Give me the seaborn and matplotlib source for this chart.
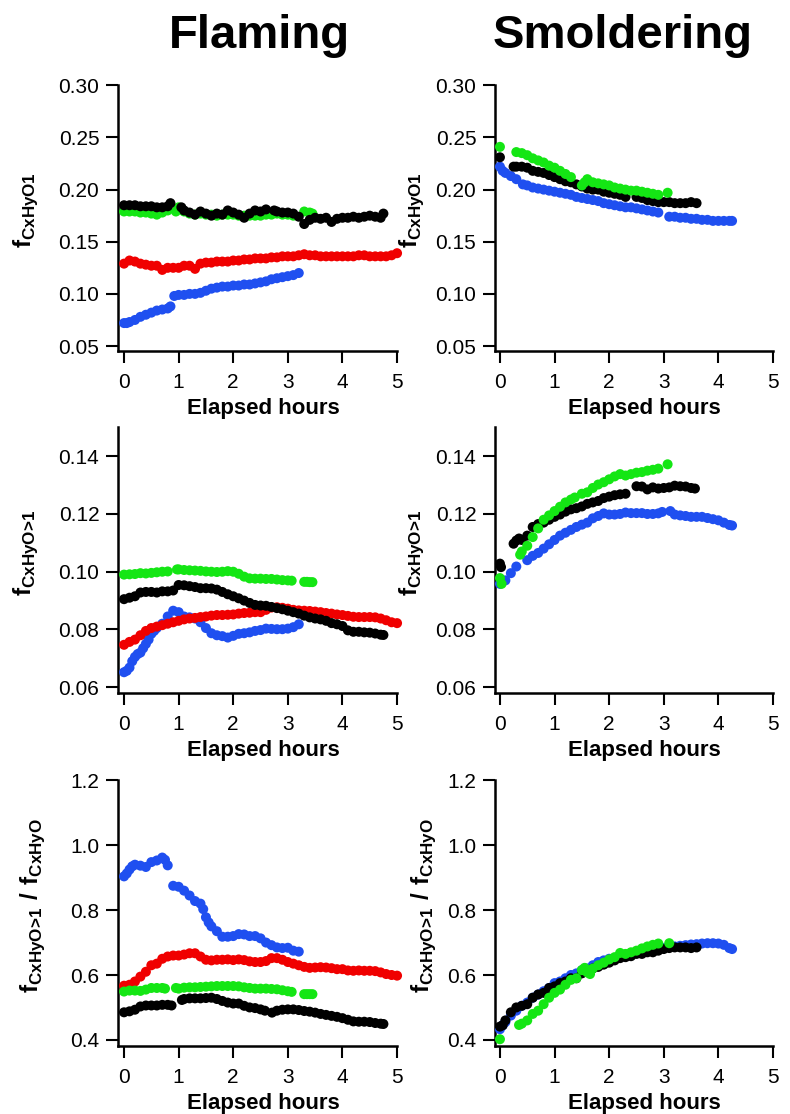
import pandas as pd
import seaborn as sns
import matplotlib
matplotlib.use("Agg")
import matplotlib.pyplot as plt
from matplotlib.ticker import FormatStrFormatter

# ---- data (hours, value) ----
# Flaming, f_CxHyO1
FL1_BLUE_T = [0.0, 0.05, 0.1, 0.2, 0.3, 0.4, 0.5, 0.6, 0.7, 0.8, 0.85,
              0.92, 1.0, 1.1, 1.2, 1.3, 1.4, 1.5, 1.6, 1.7, 1.8, 1.9, 2.0, 2.1, 2.2, 2.3, 2.4, 2.5, 2.6,
              2.7, 2.8, 2.9, 3.0, 3.1, 3.2]
FL1_BLUE_Y = [0.072, 0.072, 0.073, 0.075, 0.078, 0.080, 0.082, 0.084, 0.085, 0.086, 0.088,
              0.098, 0.099, 0.099, 0.100, 0.100, 0.101, 0.103, 0.105, 0.106, 0.107, 0.107, 0.108, 0.108,
              0.109, 0.109, 0.110, 0.111, 0.112, 0.114, 0.115, 0.116, 0.117, 0.118, 0.120]
FL1_RED_T = [0.0, 0.1, 0.2, 0.3, 0.4, 0.5, 0.6, 0.7, 0.8, 0.9, 1.0, 1.1, 1.2, 1.3, 1.4, 1.5, 1.6,
             1.7, 1.8, 1.9, 2.0, 2.1, 2.2, 2.3, 2.4, 2.5, 2.6, 2.7, 2.8, 2.9, 3.0, 3.1, 3.2, 3.3,
             3.4, 3.5, 3.6, 3.7, 3.8, 3.9, 4.0, 4.1, 4.2, 4.3, 4.4, 4.5, 4.6, 4.7, 4.8, 4.9, 5.0]
FL1_RED_Y = [0.129, 0.132, 0.131, 0.129, 0.128, 0.127, 0.127, 0.123, 0.125, 0.125, 0.125, 0.127,
             0.127, 0.124, 0.129, 0.130, 0.130, 0.131, 0.131, 0.131, 0.132, 0.132, 0.133, 0.133,
             0.134, 0.134, 0.134, 0.135, 0.135, 0.136, 0.136, 0.136, 0.137, 0.138, 0.137, 0.137,
             0.136, 0.136, 0.136, 0.136, 0.136, 0.136, 0.136, 0.137, 0.137, 0.136, 0.136, 0.136,
             0.136, 0.137, 0.139]
FL1_BLACK_T = [0.0, 0.1, 0.2, 0.3, 0.4, 0.5, 0.6, 0.7, 0.8, 0.85,
               1.05, 1.1, 1.2, 1.3, 1.4, 1.5, 1.6, 1.7, 1.8, 1.9, 2.0, 2.1, 2.2, 2.3, 2.4, 2.5, 2.6,
               2.75, 2.8, 2.9, 3.0, 3.1, 3.2, 3.3, 3.4, 3.5, 3.6, 3.7, 3.8, 3.9, 4.0, 4.1, 4.2, 4.3,
               4.4, 4.5, 4.6, 4.7, 4.75]
FL1_BLACK_Y = [0.185, 0.185, 0.185, 0.184, 0.184, 0.184, 0.183, 0.183, 0.184, 0.187,
               0.183, 0.180, 0.178, 0.176, 0.179, 0.177, 0.175, 0.177, 0.176, 0.180, 0.178, 0.176,
               0.173, 0.177, 0.180, 0.179, 0.181,
               0.180, 0.179, 0.178, 0.178, 0.177, 0.174, 0.167, 0.171, 0.173, 0.172, 0.173, 0.169,
               0.172, 0.173, 0.173, 0.174, 0.173, 0.174, 0.175, 0.174, 0.173, 0.177]
FL1_GREEN_T = [0.0, 0.1, 0.2, 0.3, 0.4, 0.5, 0.6, 0.7, 0.8,
               0.95, 1.0, 1.1, 1.2, 1.3, 1.4, 1.5, 1.6, 1.7, 1.8, 1.9, 2.0, 2.1, 2.2, 2.3, 2.4,
               2.5, 2.6, 2.7, 2.8, 2.9, 3.0, 3.1,
               3.3, 3.4, 3.45]
FL1_GREEN_Y = [0.179, 0.179, 0.179, 0.178, 0.178, 0.177, 0.176, 0.178, 0.180,
               0.179, 0.183, 0.179, 0.177, 0.176, 0.177, 0.176, 0.176, 0.175, 0.176, 0.176, 0.176,
               0.175, 0.175, 0.175, 0.175, 0.175, 0.176, 0.176, 0.177, 0.176, 0.176, 0.175,
               0.179, 0.178, 0.177]

# Smoldering, f_CxHyO1
SM1_BLUE_T = [0.0, 0.05, 0.1, 0.2, 0.3,
              0.42, 0.5, 0.6, 0.7, 0.8, 0.9, 1.0, 1.1, 1.2, 1.3, 1.4, 1.5, 1.6, 1.7, 1.8, 1.9,
              2.0, 2.1, 2.2, 2.3, 2.4, 2.5, 2.6, 2.7, 2.8, 2.9,
              3.1, 3.2, 3.3, 3.4, 3.5, 3.6, 3.7, 3.8, 3.9, 4.0, 4.1, 4.2, 4.25]
SM1_BLUE_Y = [0.222, 0.218, 0.216, 0.213, 0.210,
              0.205, 0.204, 0.202, 0.201, 0.200, 0.199, 0.198, 0.197, 0.196, 0.195, 0.193, 0.192,
              0.191, 0.190, 0.189, 0.187, 0.186, 0.185, 0.184, 0.183, 0.183, 0.182, 0.181, 0.180,
              0.179, 0.178,
              0.174, 0.174, 0.173, 0.173, 0.172, 0.172, 0.171, 0.171, 0.170, 0.170, 0.170, 0.170,
              0.170]
SM1_BLACK_T = [0.0,
               0.25, 0.3, 0.4, 0.5, 0.6, 0.7, 0.8, 0.9, 1.0, 1.1, 1.2, 1.3, 1.4, 1.5, 1.6, 1.7,
               1.8, 1.9, 2.0, 2.1, 2.2, 2.3,
               2.5, 2.6, 2.7, 2.8, 2.9, 3.0, 3.1, 3.2, 3.3, 3.4, 3.5, 3.6]
SM1_BLACK_Y = [0.231,
               0.222, 0.222, 0.222, 0.221, 0.218, 0.217, 0.216, 0.214, 0.212, 0.210, 0.208, 0.207,
               0.205, 0.203, 0.201, 0.200, 0.200, 0.198, 0.197, 0.196, 0.195, 0.193,
               0.193, 0.192, 0.190, 0.189, 0.188, 0.188, 0.188, 0.187, 0.187, 0.187, 0.188, 0.187]
SM1_GREEN_T = [0.0,
               0.3, 0.4, 0.5, 0.6, 0.7, 0.8, 0.9, 1.0, 1.1, 1.2, 1.3,
               1.5, 1.55, 1.6, 1.7, 1.8, 1.9, 2.0, 2.1, 2.2, 2.3, 2.4, 2.5, 2.6, 2.7, 2.8, 2.9,
               3.07]
SM1_GREEN_Y = [0.241,
               0.236, 0.235, 0.233, 0.230, 0.228, 0.226, 0.223, 0.221, 0.218, 0.215, 0.212,
               0.204, 0.207, 0.210, 0.207, 0.206, 0.205, 0.204, 0.202, 0.201, 0.200, 0.199, 0.199,
               0.198, 0.197, 0.196, 0.195,
               0.197]

# Flaming, f_CxHyO>1
FL2_BLUE_T = [0.0, 0.05, 0.1, 0.15, 0.2, 0.25, 0.3, 0.35, 0.4, 0.45, 0.5, 0.55, 0.6, 0.7, 0.8,
              0.9, 1.0, 1.1, 1.2, 1.3, 1.4, 1.5, 1.6, 1.7, 1.8, 1.9, 2.0, 2.1, 2.2, 2.3, 2.4,
              2.5, 2.6, 2.7, 2.8, 2.9, 3.0, 3.1, 3.2]
FL2_BLUE_Y = [0.0652, 0.0657, 0.0668, 0.0690, 0.0705, 0.0715, 0.0720, 0.0735, 0.0750, 0.0765,
              0.0785, 0.0795, 0.0805, 0.0820, 0.0845, 0.0865, 0.0860, 0.0845, 0.0842, 0.0838,
              0.0825, 0.0805, 0.0787, 0.0780, 0.0777, 0.0772, 0.0778, 0.0785, 0.0787, 0.0790,
              0.0795, 0.0798, 0.0803, 0.0802, 0.0801, 0.0801, 0.0803, 0.0808, 0.0818]
FL2_RED_T = FL1_RED_T
FL2_RED_Y = [0.0747, 0.0757, 0.0765, 0.0780, 0.0795, 0.0805, 0.0810, 0.0815, 0.0820, 0.0825,
             0.0830, 0.0835, 0.0838, 0.0840, 0.0843, 0.0845, 0.0848, 0.0850, 0.0850, 0.0851,
             0.0852, 0.0855, 0.0857, 0.0858, 0.0860, 0.0860, 0.0868, 0.0876, 0.0877, 0.0875,
             0.0872, 0.0868, 0.0866, 0.0865, 0.0864, 0.0862, 0.0860, 0.0857, 0.0855, 0.0852,
             0.0850, 0.0847, 0.0844, 0.0843, 0.0843, 0.0843, 0.0842, 0.0838, 0.0832, 0.0825,
             0.0822]
FL2_BLACK_T = [0.0, 0.1, 0.2, 0.3, 0.4, 0.5, 0.6, 0.7, 0.8, 0.9,
               1.0, 1.1, 1.2, 1.3, 1.4, 1.5, 1.6, 1.7, 1.8, 1.9, 2.0, 2.1, 2.2, 2.3, 2.4, 2.5,
               2.6, 2.7, 2.8, 2.9, 3.0, 3.1, 3.2, 3.3, 3.4, 3.5, 3.6, 3.7, 3.8, 3.9, 4.0, 4.1,
               4.2, 4.3, 4.4, 4.5, 4.6, 4.7, 4.75]
FL2_BLACK_Y = [0.0905, 0.0910, 0.0915, 0.0928, 0.0930, 0.0930, 0.0928, 0.0932, 0.0932, 0.0935,
               0.0954, 0.0953, 0.0950, 0.0947, 0.0943, 0.0943, 0.0942, 0.0938, 0.0930, 0.0922,
               0.0915, 0.0908, 0.0900, 0.0892, 0.0885, 0.0883, 0.0882, 0.0878, 0.0874, 0.0870,
               0.0865, 0.0860, 0.0855, 0.0848, 0.0842, 0.0838, 0.0835, 0.0830, 0.0822, 0.0818,
               0.0812, 0.0797, 0.0792, 0.0792, 0.0790, 0.0789, 0.0786, 0.0782, 0.0781]
FL2_GREEN_T = [0.0, 0.1, 0.2, 0.3, 0.4, 0.5, 0.6, 0.7, 0.8,
               0.97, 1.0, 1.1, 1.2, 1.3, 1.4, 1.5, 1.6, 1.7, 1.8, 1.9, 2.0, 2.1, 2.2, 2.3, 2.4,
               2.5, 2.6, 2.7, 2.8, 2.9, 3.0, 3.07,
               3.3, 3.35, 3.4, 3.45]
FL2_GREEN_Y = [0.0990, 0.0991, 0.0992, 0.0995, 0.0994, 0.0996, 0.0998, 0.1000, 0.1001,
               0.1008, 0.1008, 0.1006, 0.1005, 0.1004, 0.1003, 0.1001, 0.1000, 0.0999, 0.1000,
               0.1002, 0.1000, 0.0993, 0.0983, 0.0977, 0.0976, 0.0976, 0.0975, 0.0975, 0.0973,
               0.0971, 0.0970, 0.0969,
               0.0965, 0.0965, 0.0964, 0.0964]

# Smoldering, f_CxHyO>1
SM2_BLUE_T = [0.0, 0.1, 0.2, 0.3,
              0.5, 0.6, 0.7, 0.8, 0.9, 1.0, 1.1, 1.2, 1.3, 1.4, 1.5, 1.6, 1.7, 1.8, 1.9, 2.0,
              2.1, 2.2, 2.3, 2.4, 2.5, 2.6, 2.7, 2.8, 2.9, 2.97,
              3.12, 3.2, 3.3, 3.4, 3.5, 3.6, 3.7, 3.8, 3.9, 4.0, 4.1, 4.2, 4.25]
SM2_BLUE_Y = [0.0958, 0.0970, 0.0995, 0.1018,
              0.1040, 0.1055, 0.1065, 0.1080, 0.1095, 0.1110, 0.1125, 0.1135, 0.1145, 0.1155,
              0.1163, 0.1170, 0.1185, 0.1193, 0.1202, 0.1198, 0.1198, 0.1200, 0.1205, 0.1203,
              0.1203, 0.1203, 0.1200, 0.1200, 0.1202, 0.1207,
              0.1210, 0.1198, 0.1195, 0.1193, 0.1190, 0.1190, 0.1190, 0.1186, 0.1182, 0.1178,
              0.1170, 0.1162, 0.1160]
SM2_BLACK_T = [0.0, 0.02,
               0.25, 0.3, 0.35, 0.4, 0.5, 0.6, 0.7, 0.8, 0.9, 1.0, 1.1, 1.2, 1.3, 1.4, 1.5, 1.6,
               1.7, 1.8, 1.9, 2.0, 2.1, 2.2, 2.3,
               2.5, 2.6, 2.7, 2.8, 2.9, 3.0, 3.1, 3.2, 3.3, 3.4, 3.5, 3.57]
SM2_BLACK_Y = [0.1028, 0.1016,
               0.1097, 0.1108, 0.1115, 0.1110, 0.1125, 0.1155, 0.1165, 0.1170, 0.1180, 0.1190,
               0.1198, 0.1208, 0.1216, 0.1220, 0.1226, 0.1235, 0.1240, 0.1245, 0.1255, 0.1260,
               0.1265, 0.1268, 0.1270,
               0.1296, 0.1295, 0.1285, 0.1292, 0.1288, 0.1290, 0.1292, 0.1298, 0.1296, 0.1295,
               0.1290, 0.1288]
SM2_GREEN_T = [0.0, 0.03,
               0.37, 0.4, 0.5, 0.6, 0.7, 0.8, 0.9, 1.0, 1.1, 1.2, 1.3, 1.37,
               1.5, 1.6, 1.7, 1.8, 1.9, 2.0, 2.1, 2.2, 2.3, 2.4, 2.5, 2.6, 2.7, 2.8, 2.9,
               3.07]
SM2_GREEN_Y = [0.0978, 0.0958,
               0.1059, 0.1070, 0.1090, 0.1120, 0.1150, 0.1180, 0.1195, 0.1210, 0.1225, 0.1240,
               0.1250, 0.1257,
               0.1270, 0.1275, 0.1290, 0.1302, 0.1310, 0.1320, 0.1330, 0.1338, 0.1333, 0.1338,
               0.1343, 0.1345, 0.1350, 0.1353, 0.1357,
               0.1372]

# Flaming, f_CxHyO>1 / f_CxHyO
FL3_BLUE_T = [0.0, 0.05, 0.1, 0.15, 0.2, 0.3, 0.4, 0.5, 0.6, 0.7, 0.75, 0.8,
              0.9, 1.0, 1.1, 1.2, 1.3, 1.4, 1.45, 1.5, 1.55, 1.6, 1.7, 1.8, 1.9,
              2.0, 2.1, 2.2, 2.3, 2.4, 2.5, 2.6, 2.7, 2.8, 2.9, 3.0, 3.1, 3.2]
FL3_BLUE_Y = [0.904, 0.913, 0.925, 0.935, 0.940, 0.937, 0.933, 0.948, 0.953, 0.962, 0.955, 0.938,
              0.875, 0.872, 0.860, 0.845, 0.828, 0.820, 0.803, 0.778, 0.762, 0.750, 0.735, 0.718,
              0.718, 0.720, 0.726, 0.725, 0.720, 0.720, 0.713, 0.700, 0.692, 0.685, 0.683, 0.684,
              0.675, 0.672]
FL3_RED_T = FL1_RED_T
FL3_RED_Y = [0.567, 0.570, 0.580, 0.595, 0.610, 0.630, 0.635, 0.650, 0.657, 0.660, 0.660, 0.663,
             0.667, 0.667, 0.657, 0.647, 0.645, 0.647, 0.647, 0.648, 0.646, 0.648, 0.646, 0.642,
             0.640, 0.640, 0.643, 0.652, 0.652, 0.647, 0.640, 0.635, 0.630, 0.625, 0.622, 0.623,
             0.624, 0.623, 0.621, 0.618, 0.618, 0.614, 0.613, 0.614, 0.613, 0.613, 0.612, 0.608,
             0.603, 0.600, 0.598]
FL3_BLACK_T = [0.0, 0.1, 0.2, 0.3, 0.4, 0.5, 0.6, 0.7, 0.8, 0.87,
               1.06, 1.1, 1.2, 1.3, 1.4, 1.5, 1.6, 1.7, 1.8, 1.9, 2.0, 2.1, 2.2, 2.3, 2.4, 2.5, 2.58,
               2.71, 2.8, 2.9, 3.0, 3.1, 3.2, 3.3, 3.4, 3.5, 3.6, 3.7, 3.8, 3.9, 4.0, 4.1, 4.2,
               4.3, 4.4, 4.5, 4.6, 4.7, 4.75]
FL3_BLACK_Y = [0.485, 0.488, 0.493, 0.503, 0.506, 0.506, 0.506, 0.508, 0.508, 0.506,
               0.523, 0.526, 0.528, 0.528, 0.528, 0.529, 0.530, 0.526, 0.520, 0.515, 0.512, 0.512,
               0.505, 0.500, 0.498, 0.494, 0.490,
               0.484, 0.490, 0.493, 0.494, 0.494, 0.492, 0.489, 0.487, 0.484, 0.480, 0.477, 0.474,
               0.471, 0.467, 0.462, 0.457, 0.456, 0.456, 0.455, 0.452, 0.450, 0.449]
FL3_GREEN_T = [0.0, 0.1, 0.2, 0.3, 0.4, 0.5, 0.6, 0.7, 0.75,
               0.95, 1.0, 1.1, 1.2, 1.3, 1.4, 1.5, 1.6, 1.7, 1.8, 1.9, 2.0, 2.1, 2.2, 2.3, 2.4,
               2.5, 2.6, 2.7, 2.8, 2.9, 3.0, 3.07,
               3.3, 3.35, 3.4, 3.45]
FL3_GREEN_Y = [0.549, 0.552, 0.552, 0.551, 0.555, 0.560, 0.560, 0.560, 0.558,
               0.560, 0.558, 0.561, 0.562, 0.562, 0.563, 0.564, 0.565, 0.566, 0.566, 0.566, 0.566,
               0.565, 0.562, 0.560, 0.558, 0.558, 0.558, 0.557, 0.556, 0.553, 0.550, 0.548,
               0.541, 0.541, 0.541, 0.541]

# Smoldering, f_CxHyO>1 / f_CxHyO
SM3_BLUE_T = [0.0, 0.05, 0.1, 0.2, 0.3, 0.4, 0.5, 0.6, 0.7, 0.8, 0.9, 1.0, 1.1, 1.2, 1.3, 1.4,
              1.5, 1.6, 1.7, 1.8, 1.9, 2.0, 2.1, 2.2, 2.3, 2.4, 2.5, 2.6, 2.7, 2.8, 2.9, 3.0,
              3.1, 3.2, 3.3, 3.4, 3.5, 3.6, 3.7, 3.8, 3.9, 4.0, 4.1, 4.2, 4.25]
SM3_BLUE_Y = [0.433, 0.445, 0.455, 0.475, 0.490, 0.505, 0.515, 0.530, 0.540, 0.550, 0.560, 0.575,
              0.580, 0.590, 0.600, 0.605, 0.615, 0.620, 0.630, 0.640, 0.645, 0.650, 0.652, 0.658,
              0.662, 0.665, 0.670, 0.672, 0.675, 0.677, 0.680, 0.683, 0.686, 0.688, 0.690, 0.692,
              0.694, 0.695, 0.697, 0.698, 0.698, 0.697, 0.693, 0.683, 0.680]
SM3_BLACK_T = [0.0, 0.05, 0.1, 0.2, 0.3, 0.4, 0.5, 0.6, 0.7, 0.8, 0.9, 1.0, 1.1, 1.2, 1.3, 1.4,
               1.5, 1.6, 1.7, 1.8, 1.9, 2.0, 2.1, 2.2, 2.3, 2.4, 2.5, 2.6, 2.7, 2.8, 2.9, 3.0,
               3.1, 3.2, 3.3, 3.4, 3.5, 3.6]
SM3_BLACK_Y = [0.441, 0.445, 0.460, 0.485, 0.500, 0.505, 0.510, 0.530, 0.540, 0.545, 0.560, 0.565,
               0.575, 0.580, 0.590, 0.590, 0.605, 0.612, 0.620, 0.625, 0.632, 0.638, 0.645, 0.652,
               0.655, 0.658, 0.665, 0.665, 0.670, 0.670, 0.675, 0.680, 0.683, 0.685, 0.685, 0.685,
               0.683, 0.685]
SM3_GREEN_T = [0.0,
               0.35, 0.4, 0.5, 0.6, 0.7, 0.8, 0.9, 1.0, 1.1, 1.2, 1.3, 1.4, 1.5, 1.55, 1.6, 1.65,
               1.7, 1.8, 1.9, 2.0, 2.1, 2.2, 2.3, 2.4, 2.5, 2.6, 2.7, 2.8, 2.9,
               3.1]
SM3_GREEN_Y = [0.402,
               0.446, 0.450, 0.460, 0.480, 0.490, 0.510, 0.530, 0.545, 0.555, 0.570, 0.585, 0.590,
               0.615, 0.622, 0.608, 0.603, 0.620, 0.630, 0.638, 0.648, 0.655, 0.668, 0.665, 0.670,
               0.675, 0.682, 0.688, 0.693, 0.697,
               0.698]

COLORS = {"blue": "#1f4ff0", "red": "#f00000", "black": "#000000", "green": "#14e614"}

YLABEL_1 = r"$\mathbf{f}_{\mathbf{CxHyO1}}$"
YLABEL_2 = r"$\mathbf{f}_{\mathbf{CxHyO\!>\!1}}$"
YLABEL_3 = r"$\mathbf{f}_{\mathbf{CxHyO\!>\!1}}\ \mathbf{/}\ \mathbf{f}_{\mathbf{CxHyO}}$"


def frame(series):
    parts = []
    for name, t, y in series:
        parts.append(pd.DataFrame({"hours": t, "value": y, "source": name}))
    return pd.concat(parts, ignore_index=True)


panels = [
    # (row, col, data in draw order, ylim, yticks, fmt, label, label_x)
    (0, 0, frame([("green", FL1_GREEN_T, FL1_GREEN_Y), ("blue", FL1_BLUE_T, FL1_BLUE_Y),
                  ("red", FL1_RED_T, FL1_RED_Y), ("black", FL1_BLACK_T, FL1_BLACK_Y)]),
     (0.0452, 0.30), [0.05, 0.10, 0.15, 0.20, 0.25, 0.30], "%.2f", YLABEL_1, -0.28),
    (0, 1, frame([("blue", SM1_BLUE_T, SM1_BLUE_Y), ("black", SM1_BLACK_T, SM1_BLACK_Y),
                  ("green", SM1_GREEN_T, SM1_GREEN_Y)]),
     (0.0452, 0.30), [0.05, 0.10, 0.15, 0.20, 0.25, 0.30], "%.2f", YLABEL_1, -0.25),
    (1, 0, frame([("blue", FL2_BLUE_T, FL2_BLUE_Y), ("red", FL2_RED_T, FL2_RED_Y),
                  ("black", FL2_BLACK_T, FL2_BLACK_Y), ("green", FL2_GREEN_T, FL2_GREEN_Y)]),
     (0.058, 0.150), [0.06, 0.08, 0.10, 0.12, 0.14], "%.2f", YLABEL_2, -0.28),
    (1, 1, frame([("blue", SM2_BLUE_T, SM2_BLUE_Y), ("black", SM2_BLACK_T, SM2_BLACK_Y),
                  ("green", SM2_GREEN_T, SM2_GREEN_Y)]),
     (0.058, 0.150), [0.06, 0.08, 0.10, 0.12, 0.14], "%.2f", YLABEL_2, -0.25),
    (2, 0, frame([("blue", FL3_BLUE_T, FL3_BLUE_Y), ("red", FL3_RED_T, FL3_RED_Y),
                  ("green", FL3_GREEN_T, FL3_GREEN_Y), ("black", FL3_BLACK_T, FL3_BLACK_Y)]),
     (0.381, 1.2), [0.4, 0.6, 0.8, 1.0, 1.2], "%.1f", YLABEL_3, -0.255),
    (2, 1, frame([("blue", SM3_BLUE_T, SM3_BLUE_Y), ("black", SM3_BLACK_T, SM3_BLACK_Y),
                  ("green", SM3_GREEN_T, SM3_GREEN_Y)]),
     (0.381, 1.2), [0.4, 0.6, 0.8, 1.0, 1.2], "%.1f", YLABEL_3, -0.205),
]

sns.set_theme(style="ticks")
plt.rcParams["font.family"] = ["Liberation Sans", "DejaVu Sans"]
plt.rcParams["mathtext.fontset"] = "custom"
plt.rcParams["mathtext.rm"] = "Liberation Sans"
plt.rcParams["mathtext.bf"] = "Liberation Sans:bold"
plt.rcParams["text.color"] = "black"
plt.rcParams["axes.labelcolor"] = "black"

fig = plt.figure(figsize=(7.9, 11.14), dpi=100)

col_left = [0.1494, 0.6266]
col_width = [0.3532, 0.3519]
row_bottom = [0.6849, 0.3779, 0.0610]
row_height = 0.2385
xlims = [(-0.11, 5.0), (-0.09, 5.0)]
xlabel_x = [0.521, 0.536]

for row, col, df, ylim, yticks, fmt, ylabel, lab_x in panels:
    ax = fig.add_axes([col_left[col], row_bottom[row], col_width[col], row_height])
    sns.scatterplot(data=df, x="hours", y="value", hue="source", palette=COLORS,
                    s=52, linewidth=0, marker="o", legend=False, ax=ax, clip_on=False,
                    zorder=3)
    ax.set_xlim(*xlims[col])
    ax.set_ylim(*ylim)
    ax.set_xticks([0, 1, 2, 3, 4, 5])
    ax.set_yticks(yticks)
    ax.yaxis.set_major_formatter(FormatStrFormatter(fmt))
    sns.despine(ax=ax)
    for side in ("left", "bottom"):
        ax.spines[side].set_linewidth(1.8)
        ax.spines[side].set_color("black")
    ax.tick_params(axis="both", direction="out", length=8.5, width=1.5, colors="black",
                   labelsize=15)
    ax.tick_params(axis="y", pad=5)
    ax.tick_params(axis="x", pad=7)
    ax.set_xlabel("Elapsed hours", fontsize=16, fontweight="bold")
    ax.xaxis.set_label_coords(xlabel_x[col], -0.177)
    ax.set_ylabel(ylabel, fontsize=17.5)
    ax.yaxis.set_label_coords(lab_x, 0.53)
    ax.set_facecolor("white")

fig.text(259 / 790, 1 - 48 / 1114, "Flaming", ha="center", va="baseline",
         fontsize=34, fontweight="bold")
fig.text(623 / 790, 1 - 48 / 1114, "Smoldering", ha="center", va="baseline",
         fontsize=34, fontweight="bold")

fig.savefig("out.png", dpi=100, facecolor="white")
